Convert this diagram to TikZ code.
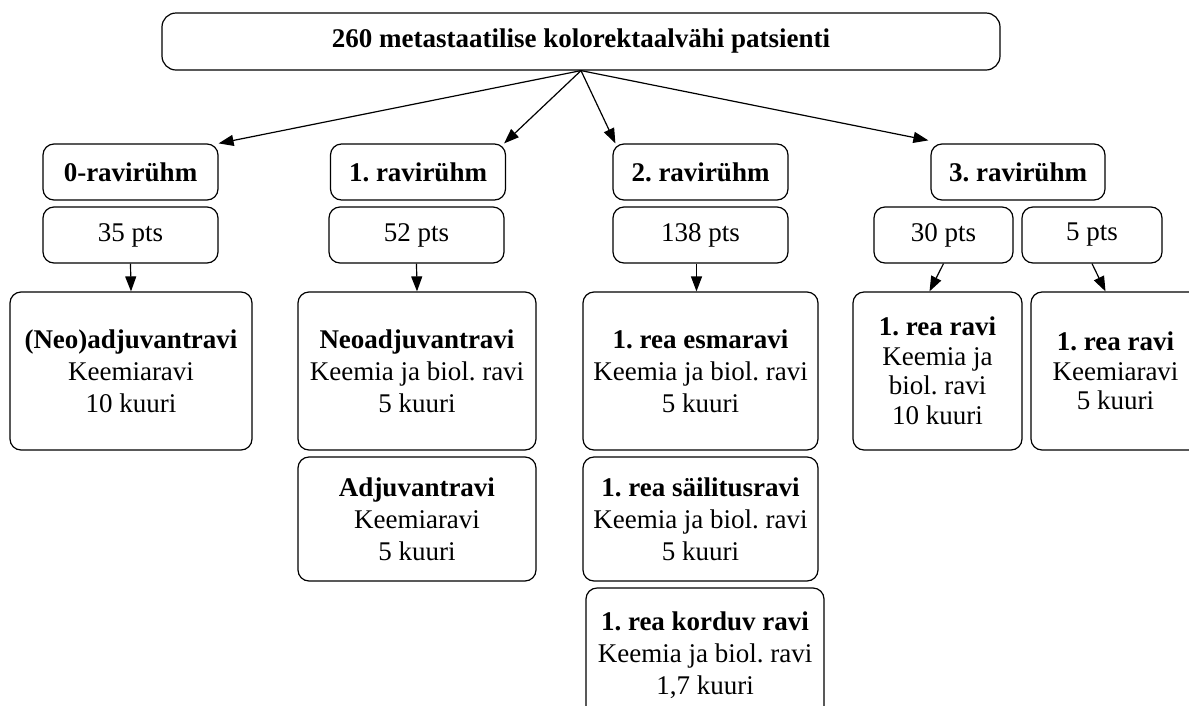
\documentclass[tikz,border=0pt]{standalone}
\usepackage{fontspec}
\setmainfont{Liberation Serif}
\usetikzlibrary{arrows.meta}
\frenchspacing
\begin{document}
\begin{tikzpicture}[x=1pt,y=-1pt,
  box/.style={draw, line width=1.2pt, rounded corners=11pt, inner sep=0pt, align=center,
    font=\fontsize{27}{32}\selectfont},
  grp/.style={box, minimum height=56pt, font=\fontsize{27}{32}\selectfont\bfseries},
  pts/.style={box, minimum height=56pt},
  arr/.style={line width=1.2pt, -{Triangle[length=15pt,width=11pt]}}]
\clip (0,0) rectangle (1189,705);
\fill[white] (0,0) rectangle (1189,705);
% top
\node[grp, minimum width=838pt, minimum height=57pt, rounded corners=14pt] (top) at (581,41.5) {260 metastaatilise kolorektaalvähi patsienti};
% groups
\node[grp, minimum width=175pt] (g0) at (130.5,172) {0-ravirühm};
\node[grp, minimum width=175pt] (g1) at (418,172) {1. ravirühm};
\node[grp, minimum width=175pt] (g2) at (700.5,172) {2. ravirühm};
\node[grp, minimum width=174pt] (g3) at (1018,172) {3. ravirühm};
% pts
\node[pts, minimum width=175pt] (p0) at (130.5,235) {35 pts};
\node[pts, minimum width=175pt] (p1) at (416.5,235) {52 pts};
\node[pts, minimum width=175pt] (p2) at (700.5,235) {138 pts};
\node[pts, minimum width=139pt] (p3a) at (943.5,235) {30 pts};
\node[pts, minimum width=140pt] (p3b) at (1092,235) {5 pts};
% treatment boxes
\node[box, minimum width=242pt, minimum height=158pt] (b0) at (131,371)
  {\textbf{(Neo)adjuvantravi}\\Keemiaravi\\10 kuuri};
\node[box, minimum width=238pt, minimum height=158pt] (b1a) at (417,371)
  {\textbf{Neoadjuvantravi}\\Keemia ja biol. ravi\\5 kuuri};
\node[box, minimum width=238pt, minimum height=124pt] (b1b) at (417,519)
  {\textbf{Adjuvantravi}\\Keemiaravi\\5 kuuri};
\node[box, minimum width=235pt, minimum height=158pt] (b2a) at (700.5,371)
  {\textbf{1. rea esmaravi}\\Keemia ja biol. ravi\\5 kuuri};
\node[box, minimum width=235pt, minimum height=124pt] (b2b) at (700.5,519)
  {\textbf{1. rea säilitusravi}\\Keemia ja biol. ravi\\5 kuuri};
\node[box, minimum width=238pt, minimum height=134pt] (b2c) at (705,655)
  {\textbf{1. rea korduv ravi}\\Keemia ja biol. ravi\\1,7 kuuri};
\node[box, minimum width=169pt, minimum height=158pt, font=\fontsize{27}{29.5}\selectfont] (b3a) at (937.5,371)
  {\textbf{1. rea ravi}\\Keemia ja\\biol. ravi\\10 kuuri};
\node[box, minimum width=169pt, minimum height=158pt, font=\fontsize{27}{29.5}\selectfont] (b3b) at (1115.5,371)
  {\textbf{1. rea ravi}\\Keemiaravi\\5 kuuri};
% connectors
\draw[arr] (top.south) -- (g0.north east);
\draw[arr] (top.south) -- ([xshift=-2pt]g1.north east);
\draw[arr] (top.south) -- ([xshift=3pt]g2.north west);
\draw[arr] (top.south) -- ([xshift=-2pt,yshift=3pt]g3.north west);
\draw[arr] (p0.south) -- (b0.north);
\draw[arr] (p1.south) -- (b1a.north);
\draw[arr] ([xshift=-4pt]p2.south) -- ([xshift=-4pt]b2a.north);
\draw[arr] (p3a.south) -- ([xshift=-8pt]b3a.north);
\draw[arr] (p3b.south) -- ([xshift=-10pt]b3b.north);
\end{tikzpicture}
\end{document}
